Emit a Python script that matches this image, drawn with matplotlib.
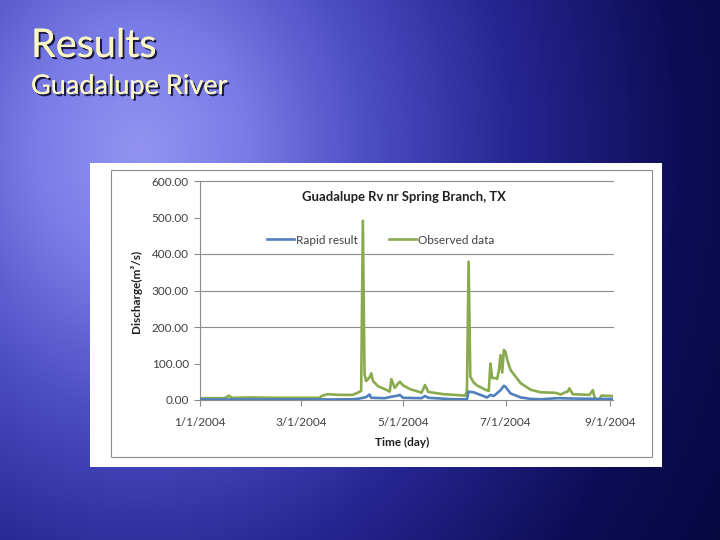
import numpy as np
import pandas as pd
import matplotlib
matplotlib.use("Agg")
import matplotlib.pyplot as plt
from matplotlib import patheffects as pe
from matplotlib.patches import Rectangle

plt.rcParams['font.family'] = ['Lato', 'DejaVu Sans']

# ---------------- data ----------------
obs_dates = ['2004-01-01', '2004-01-15', '2004-01-17', '2004-01-18', '2004-01-20', '2004-01-31',
             '2004-02-15', '2004-03-01', '2004-03-12', '2004-03-14', '2004-03-17', '2004-03-24',
             '2004-04-01', '2004-04-04', '2004-04-06', '2004-04-07', '2004-04-08', '2004-04-09',
             '2004-04-11', '2004-04-12', '2004-04-13', '2004-04-16', '2004-04-20', '2004-04-23',
             '2004-04-24', '2004-04-26', '2004-04-28', '2004-04-29', '2004-05-01', '2004-05-05',
             '2004-05-12', '2004-05-14', '2004-05-16', '2004-05-25', '2004-06-07', '2004-06-08',
             '2004-06-09', '2004-06-10', '2004-06-12', '2004-06-14', '2004-06-19', '2004-06-21',
             '2004-06-22', '2004-06-23', '2004-06-25', '2004-06-26', '2004-06-27', '2004-06-28',
             '2004-06-29', '2004-06-30', '2004-07-01', '2004-07-02', '2004-07-04', '2004-07-10',
             '2004-07-16', '2004-07-22', '2004-07-30', '2004-08-01', '2004-08-03', '2004-08-05',
             '2004-08-07', '2004-08-08', '2004-08-10', '2004-08-20', '2004-08-22', '2004-08-23',
             '2004-08-24', '2004-08-26', '2004-08-27', '2004-09-03']
obs_values = [5, 5, 8, 12, 6, 7,
              6, 6, 6, 12, 16, 14,
              14, 20, 25, 491, 70, 52,
              62, 73, 52, 38, 30, 23,
              57, 33, 45, 50, 40, 30,
              20, 41, 22, 16, 12, 25,
              379, 64, 48, 40, 28, 25,
              100, 60, 60, 58, 80, 123,
              75, 137, 132, 110, 82, 46,
              28, 21, 20, 18, 15, 20,
              23, 32, 16, 14, 27, 8,
              1, 1, 12, 11]

rapid_dates = ['2004-01-01', '2004-03-20', '2004-04-01', '2004-04-05', '2004-04-07', '2004-04-09',
               '2004-04-11', '2004-04-12', '2004-04-20', '2004-04-24', '2004-04-28', '2004-04-29',
               '2004-05-01', '2004-05-12', '2004-05-14', '2004-05-16', '2004-05-31', '2004-06-08',
               '2004-06-09', '2004-06-12', '2004-06-16', '2004-06-20', '2004-06-22', '2004-06-24',
               '2004-06-28', '2004-06-30', '2004-07-01', '2004-07-04', '2004-07-10', '2004-07-16',
               '2004-07-22', '2004-08-01', '2004-08-10', '2004-08-25', '2004-09-03']
rapid_values = [1.5, 1.5, 2, 4, 6, 8,
                15, 6, 5, 9, 12, 14,
                6, 5, 11, 6, 2, 2,
                23, 21, 14, 7, 14, 11,
                27, 39, 36, 18, 7, 3,
                2, 5, 4, 3, 3]

y_ticks = [0, 100, 200, 300, 400, 500, 600]
visible_gridlines = [200, 300, 400, 600]
x_tick_dates = ['2004-01-01', '2004-03-01', '2004-05-01', '2004-07-01', '2004-09-01']
x_tick_labels = ['1/1/2004', '3/1/2004', '5/1/2004', '7/1/2004', '9/1/2004']

series_names = ['Rapid result', 'Observed data']
chart_title = 'Guadalupe Rv nr Spring Branch, TX'

# ---------------- figure / background ----------------
W, H = 720, 540
fig = plt.figure(figsize=(W / 100, H / 100), dpi=100)
bg = fig.add_axes([0, 0, 1, 1])
bg.set_axis_off()
yy, xx = np.mgrid[0:H, 0:W]
r = np.hypot((xx - 140) * 1.1, (yy - 150) * 0.95)
stops = [0, 110, 250, 410, 600, 800]
cols = np.array([[146, 148, 240], [124, 126, 232], [76, 78, 196],
                 [38, 38, 146], [12, 12, 84], [6, 6, 58]]) / 255.0
img = np.stack([np.interp(r, stops, cols[:, k]) for k in range(3)], axis=-1)
bg.imshow(img, extent=[0, W, H, 0], aspect='auto', interpolation='bilinear')
bg.set_xlim(0, W)
bg.set_ylim(H, 0)

shadow = [pe.withSimplePatchShadow(offset=(1.5, -1.5), shadow_rgbFace='#101030', alpha=0.9), pe.Normal()]
bg.text(31, 57, 'Results', fontsize=28.5, color='#FBF7C4', ha='left', va='baseline',
        path_effects=shadow)
bg.text(31, 94, 'Guadalupe River', fontsize=19.5, color='#FBF7C4', ha='left', va='baseline',
        path_effects=shadow)

# white chart box and its border
bg.add_patch(Rectangle((90, 163), 572, 304, facecolor='white', edgecolor='none'))
bg.add_patch(Rectangle((111, 170), 541, 287, facecolor='none', edgecolor='#8c8c8c', lw=0.8))

txt_col = '#404040'
bg.text(404, 197, chart_title, fontsize=9.4, fontweight='bold', color='#202020',
        ha='center', va='center')
bg.text(136, 291, 'Discharge(m³/s)', fontsize=8.5, fontweight='bold', color='#202020',
        ha='center', va='center', rotation=90)
bg.text(402, 442, 'Time (day)', fontsize=8.5, fontweight='bold', color='#202020',
        ha='center', va='center')

# ---------------- main plot ----------------
ax = fig.add_axes([200 / W, 1 - 400 / H, 413 / W, 219 / H])
ax.set_facecolor('none')
od = pd.to_datetime(obs_dates)
rd = pd.to_datetime(rapid_dates)
ax.plot(rd, rapid_values, color='#4F7FBC', lw=1.9, label=series_names[0], zorder=3)
ax.plot(od, obs_values, color='#8AAA4E', lw=1.9, label=series_names[1], zorder=2)

ax.set_xlim(pd.Timestamp('2004-01-01'), pd.Timestamp('2004-09-03'))
ax.set_ylim(0, 600)
ax.set_yticks(y_ticks)
ax.set_yticklabels([f'{v:.2f}' for v in y_ticks])
ax.set_xticks(pd.to_datetime(x_tick_dates))
ax.set_xticklabels(x_tick_labels)
for g in visible_gridlines:
    ax.axhline(g, color='#8c8c8c', lw=0.8, zorder=1, clip_on=False)
for s in ['top', 'right']:
    ax.spines[s].set_visible(False)
for s in ['left', 'bottom']:
    ax.spines[s].set_color('#8c8c8c')
    ax.spines[s].set_linewidth(0.8)
ax.tick_params(axis='both', direction='out', length=4, width=0.8, color='#8c8c8c',
               labelsize=8.5, labelcolor=txt_col)
ax.tick_params(axis='y', pad=4)
ax.tick_params(axis='x', pad=8)

leg = ax.legend(ncol=2, loc='center', bbox_to_anchor=(0.437, 0.73), frameon=False,
                handlelength=2.3, handletextpad=0.2, columnspacing=2.6, fontsize=8.5)
for t in leg.get_texts():
    t.set_color(txt_col)

fig.savefig('out.png', dpi=100)
